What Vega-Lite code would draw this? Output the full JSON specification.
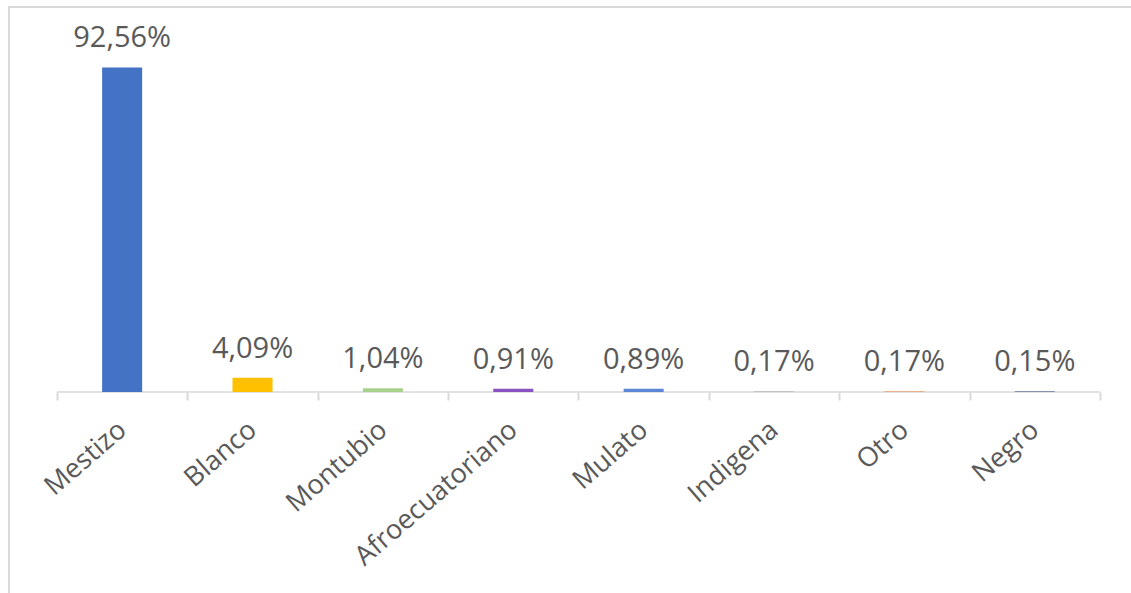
{
  "$schema": "https://vega.github.io/schema/vega-lite/v6.json",
  "autosize": {"type": "none"},
  "padding": {"left": 9, "top": 7, "right": 0, "bottom": 0},
  "width": 1131,
  "height": 593,
  "background": "white",
  "config": {
    "view": {"stroke": "#d9d9d9", "strokeWidth": 2},
    "font": "Open Sans"
  },
  "data": {
    "values": [
      {"grupo": "Mestizo", "pct": 92.56, "label": "92,56%", "color": "#4472C4"},
      {"grupo": "Blanco", "pct": 4.09, "label": "4,09%", "color": "#FFC000"},
      {"grupo": "Montubio", "pct": 1.04, "label": "1,04%", "color": "#A9D18E"},
      {"grupo": "Afroecuatoriano", "pct": 0.91, "label": "0,91%", "color": "#8A52C0"},
      {"grupo": "Mulato", "pct": 0.89, "label": "0,89%", "color": "#5B87D6"},
      {"grupo": "Indigena", "pct": 0.17, "label": "0,17%", "color": "#A5A5A5"},
      {"grupo": "Otro", "pct": 0.17, "label": "0,17%", "color": "#ED7D31"},
      {"grupo": "Negro", "pct": 0.15, "label": "0,15%", "color": "#264478"}
    ]
  },
  "encoding": {
    "x": {
      "field": "grupo",
      "type": "nominal",
      "sort": null,
      "scale": {"paddingInner": 0, "paddingOuter": 0.3375, "align": 0.545},
      "axis": {
        "title": null,
        "orient": "bottom",
        "offset": -208,
        "domain": false,
        "ticks": true,
        "tickBand": "extent",
        "tickColor": "#d9d9d9",
        "tickWidth": 2,
        "tickSize": 8,
        "labelAngle": -41,
        "labelAlign": "right",
        "labelBaseline": "middle",
        "labelPadding": 26,
        "labelFontSize": 27,
        "labelColor": "#595959",
        "labelFont": "Open Sans",
        "labelLimit": 0,
        "labelOverlap": false
      }
    }
  },
  "layer": [
    {
      "mark": {"type": "rect", "stroke": "#d9d9d9", "strokeWidth": 1.5, "fill": null},
      "encoding": {
        "y": {"datum": 0, "type": "quantitative", "scale": {"domain": [-59.33, 109.81], "nice": false, "zero": false}, "axis": null},
        "y2": {"datum": 0}
      }
    },
    {
      "mark": {"type": "bar", "width": {"band": 0.307}},
      "encoding": {
        "y": {"field": "pct", "type": "quantitative"},
        "color": {"field": "color", "type": "nominal", "scale": null, "legend": null}
      }
    },
    {
      "mark": {"type": "text", "baseline": "alphabetic", "dy": -20, "fontSize": 29, "color": "#595959", "font": "Open Sans"},
      "encoding": {
        "y": {"field": "pct", "type": "quantitative"},
        "text": {"field": "label"}
      }
    }
  ]
}
